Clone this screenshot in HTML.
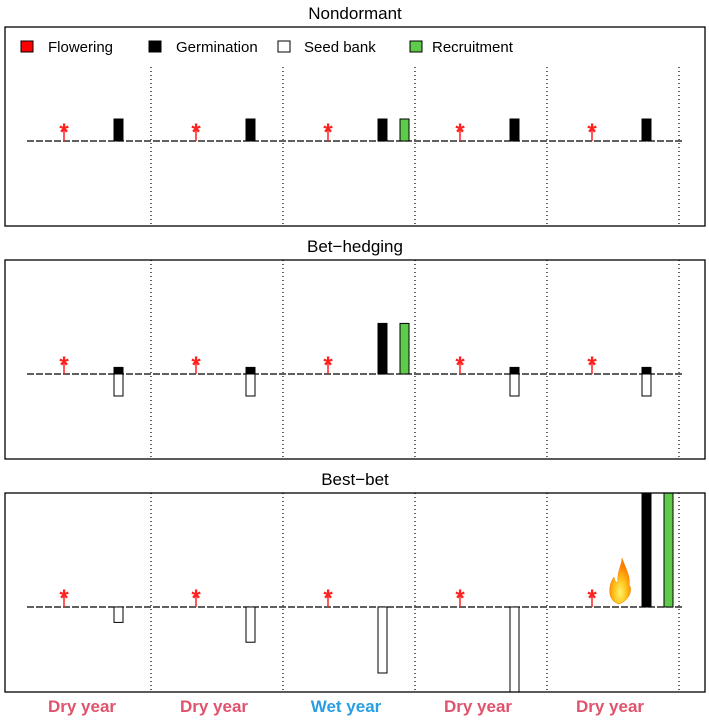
<!DOCTYPE html>
<html><head><meta charset="utf-8"><style>
html,body{margin:0;padding:0;background:#fff;}
svg{display:block;font-family:"Liberation Sans",sans-serif;}
</style></head><body>
<svg id="chart" width="709" height="720" viewBox="0 0 709 720" xmlns="http://www.w3.org/2000/svg">
<defs>
<radialGradient id="fg" cx="0.5" cy="0.75" r="0.6">
<stop offset="0" stop-color="#fff36a"/><stop offset="0.5" stop-color="#ffc21a"/><stop offset="1" stop-color="#ff7a00"/>
</radialGradient>
</defs>
<g>
<rect x="21" y="41" width="12" height="11" fill="#ff0000" stroke="#000"/>
<text x="48" y="52" font-size="15">Flowering</text>
<rect x="149" y="41" width="12" height="11" fill="#000" stroke="#000"/>
<text x="176" y="52" font-size="15">Germination</text>
<rect x="278" y="41" width="12" height="11" fill="#fff" stroke="#000"/>
<text x="304" y="52" font-size="15">Seed bank</text>
<rect x="410" y="41" width="12" height="11" fill="#5ecb4a" stroke="#000"/>
<text x="432" y="52" font-size="15">Recruitment</text>
</g>
</svg>
<script>
const years = ["Dry year","Dry year","Wet year","Dry year","Dry year"];
const panelTitles = ["Nondormant","Bet\u2212hedging","Best\u2212bet"];
const germination = [[1,1,1,1,1],[0.3,0.3,2.3,0.3,0.3],[0,0,0,0,5.5]];
const seedBank = [[0,0,0,0,0],[-1,-1,0,-1,-1],[-0.7,-1.6,-3,-4.5,0]];
const recruitment = [[0,0,1,0,0],[0,0,2.3,0,0],[0,0,0,0,5.5]];
const fireYear = [null,null,4];

const NS="http://www.w3.org/2000/svg";
const svg=document.getElementById('chart');
function mk(tag,attrs,parent){const e=document.createElementNS(NS,tag);for(const k in attrs)e.setAttribute(k,attrs[k]);(parent||svg).appendChild(e);return e;}
const panelTop=[27,260,493], panelH=199, baseY=[141,374,607];
const unit=22;
const yearX=i=>19+i*132;
const yS=(p,v)=>baseY[p]-v*unit;

panelTitles.forEach((t,p)=>{
  const g=mk('g',{});
  
  
  const tt=mk('text',{x:355,y:panelTop[p]-8,'font-size':17,'text-anchor':'middle'},g);
  tt.textContent=t;
  
  
  const cp=mk('clipPath',{id:'cp'+p},g);
  mk('rect',{x:5,y:panelTop[p],width:700,height:panelH},cp);
  const inner=mk('g',{'clip-path':'url(#cp'+p+')'},g);
  for(let i=1;i<=5;i++){
    const x=yearX(i);
    const l=mk('line',{x1:x,x2:x,y1:p===0?67:panelTop[p],y2:panelTop[p]+panelH,stroke:'#000','stroke-width':1.2,'stroke-dasharray':'1,3'},inner);
    
    
  }
  const bl=mk('line',{x1:27,x2:683,y1:baseY[p],y2:baseY[p],stroke:'#000','stroke-width':1.3,'stroke-dasharray':'7,2'},inner);
  
  
  years.forEach((y,i)=>{
    const x0=yearX(i);
    const sx=x0+45;
    const st=mk('line',{x1:sx,x2:sx,y1:baseY[p],y2:baseY[p]-14,stroke:'#ff2020','stroke-width':1.5},inner);
    
    
    const s=mk('text',{x:sx,y:baseY[p]-1,'font-size':24,'font-weight':'bold',fill:'#ff2020','text-anchor':'middle'},inner);
    s.textContent='*';
    
    
    const gv=germination[p][i];
    if(gv>0){
      const r=mk('rect',{x:x0+95,y:yS(p,gv),width:9,height:baseY[p]-yS(p,gv),fill:'#000',stroke:'#000'},inner);
      
      
    }
    const sv=seedBank[p][i];
    if(sv<0){
      const r=mk('rect',{x:x0+95,y:baseY[p],width:9,height:yS(p,sv)-baseY[p],fill:'#fff',stroke:'#000'},inner);
      
      
    }
    const rv=recruitment[p][i];
    if(rv>0){
      const r=mk('rect',{x:x0+117,y:yS(p,rv),width:9,height:baseY[p]-yS(p,rv),fill:'#5ecb4a',stroke:'#000'},inner);
      
      
    }
    if(fireYear[p]===i){
      const fx=x0+72, fy=baseY[p];
      const f=mk('path',{d:`M${fx} ${fy-3} C${fx-12} ${fy-6} ${fx-11} ${fy-22} ${fx-5} ${fy-30} C${fx-4} ${fy-24} ${fx-2} ${fy-24} ${fx-1} ${fy-26} C${fx-2} ${fy-36} ${fx+3} ${fy-42} ${fx+3} ${fy-49} C${fx+6} ${fy-40} ${fx+12} ${fy-30} ${fx+10} ${fy-22} C${fx+13} ${fy-20} ${fx+13} ${fy-8} ${fx} ${fy-3} Z`,fill:'url(#fg)',stroke:'#f08000','stroke-width':0.5},inner);
      
      
    }
  });
  const fr=mk('rect',{x:5,y:panelTop[p],width:700,height:panelH,fill:'none',stroke:'#000','stroke-width':1.3},g);
  
  
});
years.forEach((y,i)=>{
  const t=mk('text',{x:yearX(i)+66-3,y:712,'font-size':17,'font-weight':'bold','text-anchor':'middle',fill:y.startsWith('Wet')?'#2a9ee0':'#e0536f'});
  t.textContent=y;
  
  
});
</script>
</body></html>
